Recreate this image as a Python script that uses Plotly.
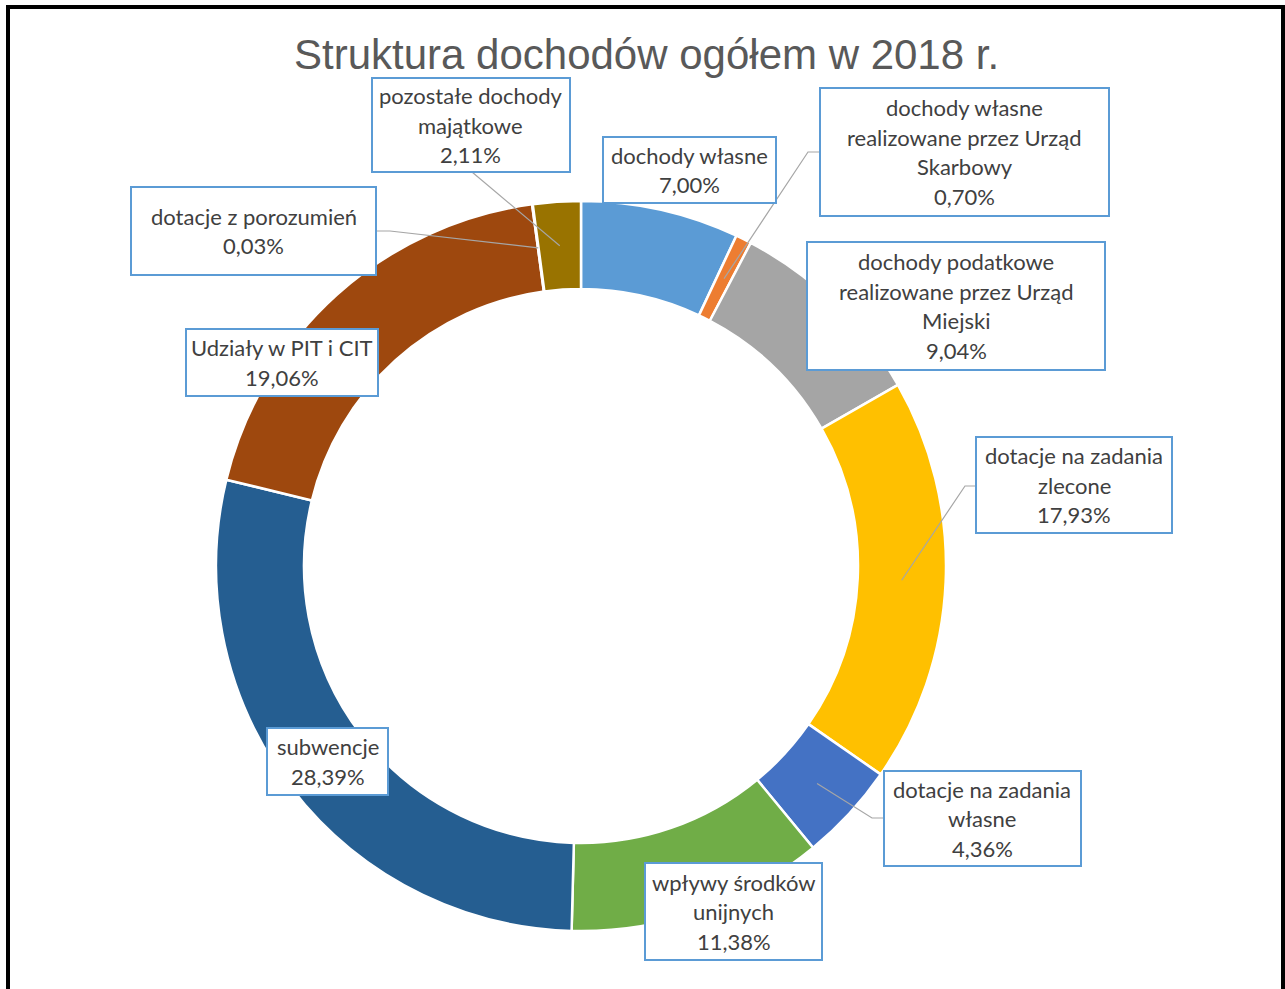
import math
import plotly.graph_objects as go

W, H = 1285, 989

# data
names = [
    "dochody własne",
    "dochody własne realizowane przez Urząd Skarbowy",
    "dochody podatkowe realizowane przez Urząd Miejski",
    "dotacje na zadania zlecone",
    "dotacje na zadania własne",
    "wpływy środków unijnych",
    "subwencje",
    "Udziały w PIT i CIT",
    "dotacje z porozumień",
    "pozostałe dochody majątkowe",
]
values = [7.00, 0.70, 9.04, 17.93, 4.36, 11.38, 28.39, 19.06, 0.03, 2.11]
colors = ["#5B9BD5", "#ED7D31", "#A5A5A5", "#FFC000", "#4472C4",
          "#70AD47", "#255E91", "#9E480E", "#636363", "#997300"]

# how each label is wrapped inside its box
wrapped = [
    ["dochody własne"],
    ["dochody własne", "realizowane przez Urząd", "Skarbowy"],
    ["dochody podatkowe", "realizowane przez Urząd", "Miejski"],
    ["dotacje na zadania", "zlecone"],
    ["dotacje na zadania", "własne"],
    ["wpływy środków", "unijnych"],
    ["subwencje"],
    ["Udziały w PIT i CIT"],
    ["dotacje z porozumień"],
    ["pozostałe dochody", "majątkowe"],
]

# layout (pixels): donut geometry, label boxes, leader elbows
CX, CY, R_OUT, R_IN = 581, 566, 365, 277
boxes = [
    (603, 137, 776, 203),
    (820, 88, 1109, 216),
    (807, 242, 1105, 370),
    (976, 437, 1172, 533),
    (884, 771, 1081, 866),
    (645, 863, 822, 960),
    (267, 728, 388, 795),
    (186, 329, 378, 396),
    (131, 187, 376, 275),
    (372, 78, 570, 172),
]
leaders = {
    1: [(808, 152), (820, 152)],
    3: [(965, 486), (976, 486)],
    4: [(872, 818), (884, 818)],
    8: [(390, 231), (376, 231)],
    9: [(472, 172)],
}
LINE_H = 29.5


def px(x, y):
    return x / W, 1 - y / H


fig = go.Figure(go.Pie(
    labels=names,
    values=values,
    hole=R_IN / R_OUT,
    sort=False,
    direction="clockwise",
    rotation=0,
    textinfo="none",
    marker=dict(colors=colors, line=dict(color="white", width=2.5)),
    domain=dict(x=[(CX - R_OUT) / W, (CX + R_OUT) / W],
                y=[1 - (CY + R_OUT) / H, 1 - (CY - R_OUT) / H]),
    showlegend=False,
))

shapes = []
annotations = []

# leader lines from the middle of the slice to the label box
total = sum(values)
cum = 0
r_mid = (R_IN + R_OUT) / 2
for i, v in enumerate(values):
    ang = math.radians((cum + v / 2) / total * 360)
    cum += v
    if i not in leaders:
        continue
    tx = CX + r_mid * math.sin(ang)
    ty = CY - r_mid * math.cos(ang)
    pts = [(tx, ty)] + leaders[i]
    path = "M " + " L ".join("%f,%f" % px(x, y) for x, y in pts)
    shapes.append(dict(type="path", xref="paper", yref="paper", path=path,
                       line=dict(color="#A6A6A6", width=1.2), layer="above"))

# label boxes with text
for i, (l, t, r, b) in enumerate(boxes):
    x0, y1 = px(l, t)
    x1, y0 = px(r, b)
    shapes.append(dict(type="rect", xref="paper", yref="paper",
                       x0=x0, x1=x1, y0=y0, y1=y1,
                       line=dict(color="#5B9BD5", width=2),
                       fillcolor="white", layer="above"))
    pct = ("%.2f" % values[i]).replace(".", ",") + "%"
    lines = wrapped[i] + [pct]
    n = len(lines)
    cxb = (l + r) / 2
    cyb = (t + b) / 2
    for k, s in enumerate(lines):
        ly = cyb + (k - (n - 1) / 2) * LINE_H
        ax, ay = px(cxb, ly)
        annotations.append(dict(x=ax, y=ay, xref="paper", yref="paper",
                                text=s, showarrow=False,
                                xanchor="center", yanchor="middle",
                                font=dict(family="Lato", size=22, color="#404040")))

# title
tx, ty = px(646, 54)
annotations.append(dict(x=tx, y=ty, xref="paper", yref="paper",
                        text="Struktura dochodów ogółem w 2018 r.",
                        showarrow=False, xanchor="center", yanchor="middle",
                        font=dict(family="Liberation Sans", size=42, color="#595959")))

# outer frame
shapes.append(dict(type="rect", xref="paper", yref="paper",
                   x0=8 / W, x1=1283 / W, y0=-0.05, y1=1 - 7 / H,
                   line=dict(color="black", width=4), layer="above"))

fig.update_layout(
    width=W,
    height=H,
    margin=dict(l=0, r=0, t=0, b=0),
    paper_bgcolor="white",
    plot_bgcolor="white",
    shapes=shapes,
    annotations=annotations,
)

fig.write_html("out.html",
               config={"displayModeBar": False},
               post_script="document.body.style.margin='0';document.body.style.overflow='hidden';")
